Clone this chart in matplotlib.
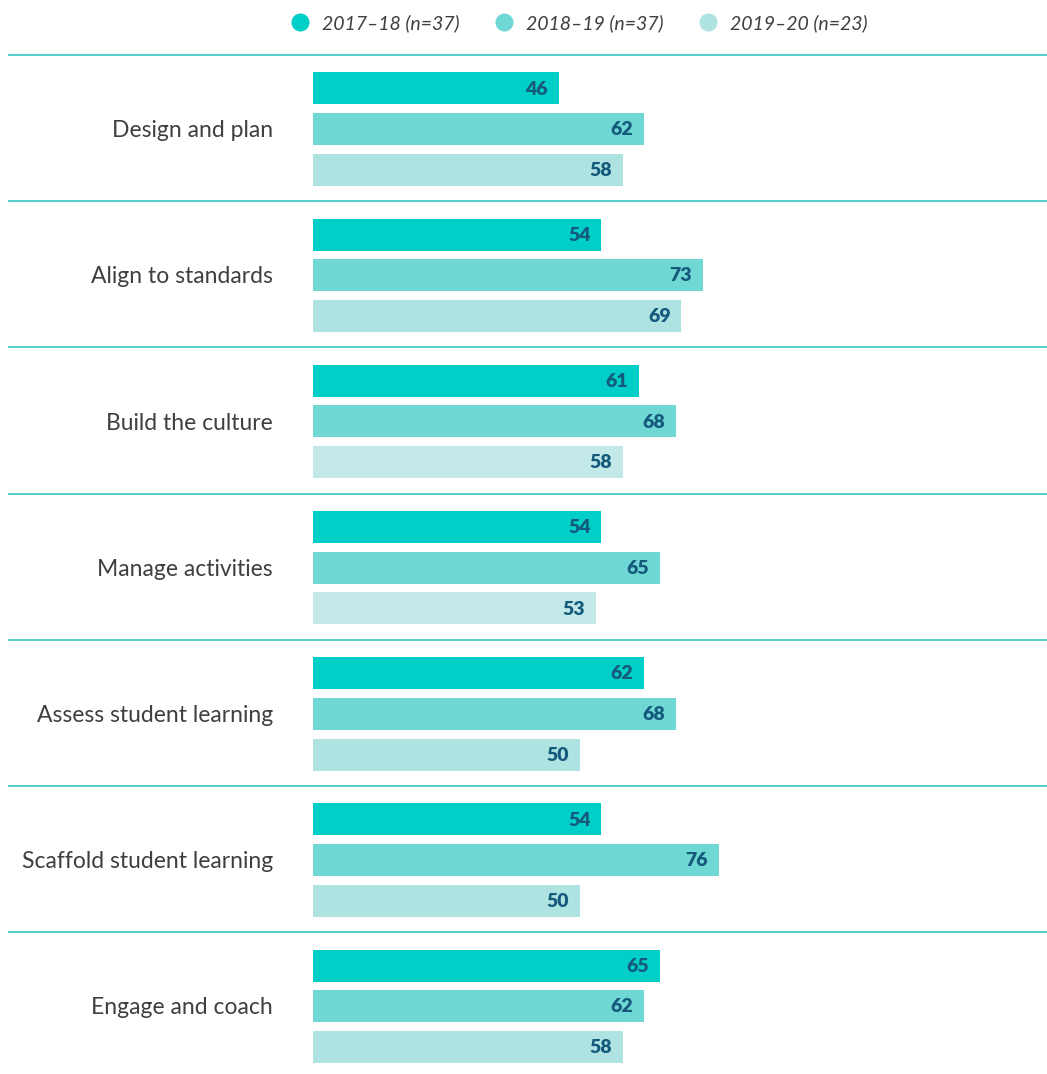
import matplotlib.pyplot as plt
from matplotlib.lines import Line2D

categories = [
    "Design and plan",
    "Align to standards",
    "Build the culture",
    "Manage activities",
    "Assess student learning",
    "Scaffold student learning",
    "Engage and coach",
]
series_names = ["2017–18 (n=37)", "2018–19 (n=37)", "2019–20 (n=23)"]
values_2017 = [46, 54, 61, 54, 62, 54, 65]
values_2018 = [62, 73, 68, 65, 68, 76, 62]
values_2019 = [58, 69, 58, 53, 50, 50, 58]

COLOURS = ["#00CFC8", "#6FD8D4", "#AEE3E2"]
PALE = "#C2E9E8"
pale_groups = [2, 3]  # third bar drawn a shade lighter in these rows
LABEL_COLOUR = "#155A7C"
TEXT_COLOUR = "#3F3F3F"
RULE_COLOUR = "#46CACA"

plt.rcParams["font.family"] = ["Lato", "DejaVu Sans"]

W, H = 1047, 1074
fig = plt.figure(figsize=(W / 100, H / 100), dpi=100)
ax = fig.add_axes([0, 0, 1, 1])

px_per_unit = 5.34
x0_px = 313
ax.set_xlim(-x0_px / px_per_unit, (W - x0_px) / px_per_unit)

group_px = 146.2
first_px = 129
ax.set_ylim((H - first_px) / group_px, -first_px / group_px)

offset = 40.7 / group_px
height = 32 / group_px

series = [values_2017, values_2018, values_2019]
for s, vals in enumerate(series):
    for g, v in enumerate(vals):
        y = g + (s - 1) * offset
        colour = COLOURS[s]
        if s == 2 and g in pale_groups:
            colour = PALE
        ax.barh(y, v, height=height, color=colour, linewidth=0)
        ax.text(v - 2.0, y + 0.005, str(v), ha="right", va="center", fontsize=14,
                fontweight="heavy", color=LABEL_COLOUR)

for g, cat in enumerate(categories):
    ax.text(-7.5, g + 0.012, cat, ha="right", va="center", fontsize=16.5,
            color=TEXT_COLOUR)
    ax.hlines(g - 74 / group_px, (8 - x0_px) / px_per_unit,
              (W - x0_px) / px_per_unit, color=RULE_COLOUR, linewidth=1.3)

ax.axis("off")

handles = [Line2D([], [], marker="o", linestyle="none", markersize=13,
                  markerfacecolor=c, markeredgewidth=0) for c in COLOURS]
fig.legend(handles, series_names, loc="center", bbox_to_anchor=(0.551, 1 - 23 / H),
           ncol=3, frameon=False, handlelength=1.4, handletextpad=0.43,
           columnspacing=1.6, prop={"style": "italic", "size": 14},
           labelcolor=TEXT_COLOUR)

fig.savefig("out.png", dpi=100)
